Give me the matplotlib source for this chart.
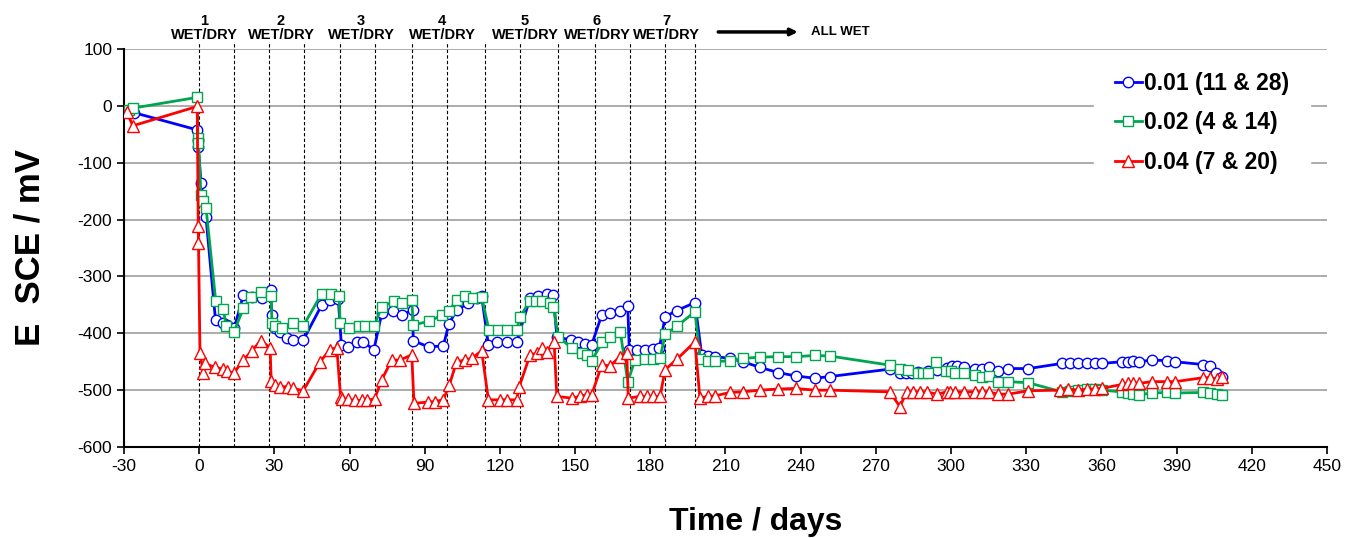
import matplotlib
matplotlib.use("Agg")
import matplotlib.pyplot as plt

plt.rcParams['font.family'] = ['Liberation Sans', 'DejaVu Sans']
plt.rcParams['axes.unicode_minus'] = False

# 0.01 (11 & 28)
days_b = [-28, -26, -1, -0.6, -0.4, 0.7, 2.7,
          6.5, 9.6, 11, 14,
          17.6, 21, 25, 28.5,
          28.9, 30.2, 32.2, 35.2, 37.5, 41.5,
          48.9, 52.2, 55.5,
          56.7, 59.5, 62.8, 65.5, 69.7,
          72.8, 77.5, 80.8, 85.2,
          85.4, 91.6, 97.4,
          99.6, 102.7, 107.4, 110.7, 112.7,
          115.4, 118.7, 122.7, 126.7,
          132, 135.3, 138.7, 141.3,
          142.7, 148.3, 151.3, 154, 156.6,
          160.6, 164, 168, 171,
          171.6, 174.6, 178, 181.2, 183.6,
          185.9, 190.5, 197.8,
          200.5, 203, 205.8, 211.8, 217, 223.8, 231, 238, 245.7, 251.7,
          275.6, 279.6, 282, 284.3, 287, 291, 294.3, 298.3, 300.5, 302.3,
          305, 309.6, 312.3, 315, 318.9, 322.9, 330.9,
          344.2, 347.5, 350.8, 354.2, 357.5, 360.1,
          368.1, 370.8, 372.7, 375.1, 380.1, 386.1, 389.4,
          400.7, 403.4, 405.8, 408]
vals_b = [-8, -12, -42, -60, -72, -135, -196,
          -377, -382, -385, -390,
          -333, -336, -338, -323,
          -368, -390, -397, -409, -412, -412,
          -350, -341, -340,
          -420, -424, -415, -415, -429,
          -365, -360, -368, -359,
          -413, -424, -422,
          -384, -359, -347, -338, -335,
          -421, -415, -415, -415,
          -338, -334, -331, -333,
          -406, -412, -415, -418, -420,
          -368, -364, -360, -352,
          -429, -429, -429, -428, -426,
          -371, -360, -346,
          -438, -440, -441, -444, -450, -460, -469, -475, -479, -476,
          -463, -470, -469, -469, -468, -467, -464, -461, -458, -457,
          -460, -462, -462, -460, -466, -462, -462,
          -453, -453, -453, -453, -453, -453,
          -450, -450, -448, -450, -447, -448, -450,
          -455, -457, -469, -476]

# 0.02 (4 & 14)
days_g = [-28, -26.5, -0.8, -0.5, -0.3, 0.7, 1.6, 2.7,
          6.6, 9.6, 10.7, 13.9,
          17.6, 20.7, 24.8, 28.7,
          29, 30.2, 32.9, 37.5, 41.5,
          48.9, 52.6, 55.8,
          56.2, 59.9, 63.9, 66.2, 69.8,
          72.8, 77.7, 80.8, 84.8,
          85.4, 91.8, 96.8, 99.8, 102.7, 106, 109.4, 112.7,
          115.6, 119.4, 122.7, 126.7, 128,
          132, 134.5, 136.7, 140, 141.3,
          143.3, 148.6, 152.6, 154.6, 156.6,
          160.8, 164.1, 168, 171,
          173.9, 177.9, 181, 183.9,
          185.9, 190.5, 197.8,
          200, 203.2, 205.8, 211.8, 217.1, 223.8, 231, 238, 245.7, 251.7,
          275.6, 279.6, 283, 287, 289, 291, 294, 298, 300, 301.6,
          305, 309.6, 312.3, 315, 318.9, 322.9, 330.9,
          344.2, 347.5, 350.8, 354.2, 357.5, 360.1,
          368.1, 370.8, 372.7, 375.1, 380.1, 386.1, 389.4,
          400.7, 403.4, 406, 408]
vals_g = [-8, -4, 15, -57, -65, -157, -168, -179,
          -344, -357, -387, -397,
          -356, -337, -327, -334,
          -382, -388, -390, -382, -387,
          -330, -331, -334,
          -381, -391, -387, -387, -387,
          -353, -344, -347, -341,
          -385, -379, -368, -360, -341, -334, -338, -336,
          -394, -394, -394, -394, -371,
          -343, -343, -344, -347, -353,
          -406, -426, -435, -438, -448,
          -416, -406, -397, -485,
          -447, -446, -445, -444,
          -402, -388, -362,
          -446, -449, -449, -449, -444, -442, -441, -441, -439, -440,
          -456, -462, -464, -469, -469, -469, -451, -467, -467, -469,
          -470, -473, -476, -475, -485, -485, -487,
          -503, -502, -500, -498, -498, -500,
          -503, -505, -506, -508, -505, -504, -505,
          -504, -505, -507, -508]

# 0.04 (7 & 20)
days_r = [-29, -26.5, -0.8, -0.4, -0.3, 0.3, 1.6, 2.3,
          6.3, 9.6, 11, 13.8,
          17.6, 21, 24.5, 28.3,
          28.7, 30.2, 32.2, 35.6, 37.5, 41.5,
          48.2, 52.2, 54.9,
          56.4, 56.9, 59.5, 62.2, 64.8, 67, 70,
          72.8, 76.8, 80.1, 84.8,
          85.7, 91.4, 94, 97.4,
          99.8, 102.7, 106, 108.7, 112.7,
          115.4, 120, 123, 126.7,
          127.7, 132, 134.7, 136.7, 138.7, 141.6,
          142.7, 148.6, 152, 154.6, 156.6,
          160.6, 164, 168, 170.6,
          171.2, 175.9, 178.5, 181.2, 183.9,
          185.9, 190.5, 197.8,
          199.8, 203.2, 205.8, 211.8, 216.9, 223.8, 231, 238, 245.7, 251.7,
          275.6, 279.6, 282.3, 285, 287.5, 290.3, 294.3, 298.3, 299.6, 301.6,
          305, 309.6, 312.3, 315, 318.9, 322.9, 330.9,
          343.5, 346.8, 350.8, 354.2, 357.5, 360.1,
          368.1, 370.8, 372.7, 375.1, 380.1, 386.1, 389.4,
          400.7, 403.4, 406, 408]
vals_r = [-10, -35, -1, -212, -242, -435, -470, -453,
          -460, -463, -467, -470,
          -447, -431, -413, -425,
          -484, -491, -494, -494, -497, -501,
          -450, -429, -425,
          -512, -515, -516, -518, -518, -518, -515,
          -482, -447, -447, -438,
          -523, -521, -520, -517,
          -491, -450, -447, -444, -431,
          -517, -517, -517, -517,
          -494, -438, -435, -426, -432, -415,
          -511, -514, -511, -508, -508,
          -456, -457, -441, -434,
          -514, -511, -511, -511, -511,
          -464, -446, -415,
          -514, -511, -510, -504, -503, -500, -498, -497, -500, -500,
          -503, -529, -503, -503, -503, -503, -507, -503, -503, -503,
          -503, -503, -503, -503, -507, -507, -501,
          -500, -498, -500, -498, -498, -497,
          -490, -488, -487, -488, -485, -485, -485,
          -478, -478, -481, -477]

cycle_lines = [0, 14, 28, 42, 56, 70, 85, 99, 114, 128, 143, 158, 172, 186, 198]
cycle_labels = ['1', '2', '3', '4', '5', '6', '7']
cycle_label_x = [1.9, 32.6, 64.6, 96.9, 130, 158.7, 186.6]

fig = plt.figure(figsize=(13.47, 5.38), dpi=100)
ax = fig.add_axes([0.0921, 0.1691, 0.8930, 0.7398])

ax.set_xlim(-30, 450)
ax.set_ylim(-600, 100)
ax.set_xticks(range(-30, 451, 30))
ax.set_yticks(range(-600, 101, 100))
ax.tick_params(labelsize=12.5, direction='out', length=5, width=1.2)
ax.yaxis.grid(True, color='#a6a6a6', linewidth=1.3)
ax.set_axisbelow(True)
for s in ['top', 'right']:
    ax.spines[s].set_visible(False)
for s in ['left', 'bottom']:
    ax.spines[s].set_linewidth(1.5)

ax.vlines(cycle_lines, -600, 110, colors='black', linestyles=(0, (3, 2)),
          linewidth=0.8, zorder=1, clip_on=False)

ax.plot(days_b, vals_b, color='#0000ff', lw=2, marker='o', ms=7.5,
        mfc='white', mec='#0000ff', mew=1, label='0.01 (11 & 28)', zorder=3)
ax.plot(days_g, vals_g, color='#00a550', lw=2, marker='s', ms=7.5,
        mfc='white', mec='#00a550', mew=1, label='0.02 (4 & 14)', zorder=3)
ax.plot(days_r, vals_r, color='#ff0000', lw=2, marker='^', ms=8.5,
        mfc='white', mec='#ff0000', mew=1, label='0.04 (7 & 20)', zorder=3)

for lbl, x in zip(cycle_labels, cycle_label_x):
    ax.text(x, 150, lbl, ha='center', va='center', fontsize=10.5,
            fontweight='bold', clip_on=False)
    ax.text(x, 124, 'WET/DRY', ha='center', va='center', fontsize=10.5,
            fontweight='bold', clip_on=False)

ax.annotate('', xy=(240, 130), xytext=(206, 130), annotation_clip=False,
            arrowprops=dict(arrowstyle='-|>', color='black', lw=2.5,
                            mutation_scale=10))
ax.text(244, 130, 'ALL WET', ha='left', va='center', fontsize=9.5,
        fontweight='bold', clip_on=False)

leg = ax.legend(loc='upper right', bbox_to_anchor=(0.986, 0.995),
                prop={'size': 16.5, 'weight': 'bold'}, frameon=True,
                fancybox=False, edgecolor='white', framealpha=1,
                handlelength=1.2, handletextpad=0.1, labelspacing=0.72,
                borderpad=0.9, borderaxespad=0)

ax.set_xlabel('Time / days', fontsize=23, fontweight='bold', labelpad=24,
              x=0.525)
ax.set_ylabel('E  SCE / mV', fontsize=25, fontweight='bold', labelpad=22)

fig.savefig('out.png', dpi=100)
